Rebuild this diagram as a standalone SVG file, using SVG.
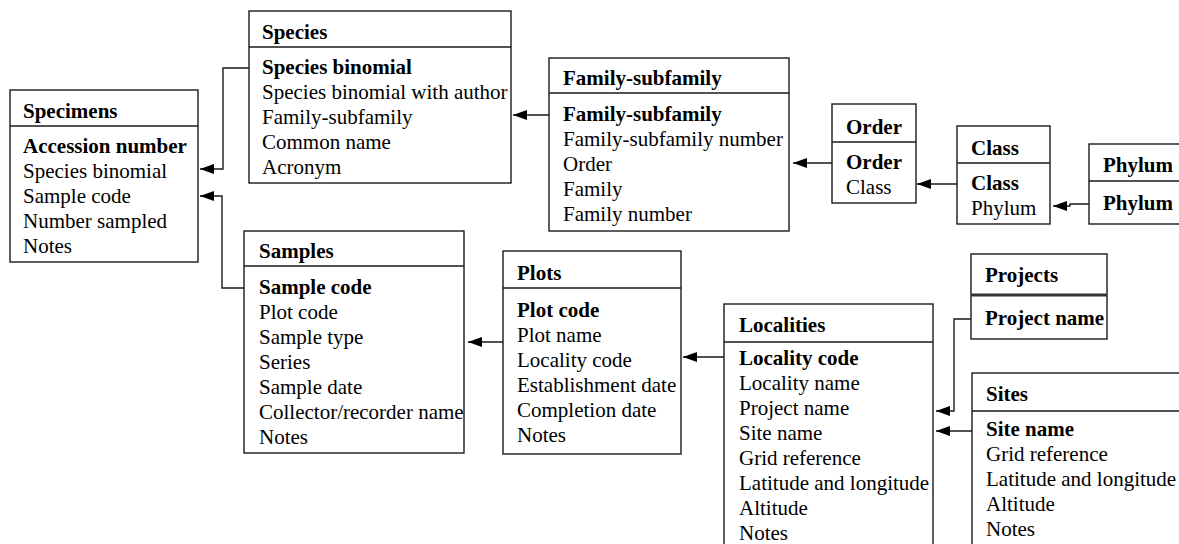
<svg xmlns="http://www.w3.org/2000/svg" width="1179" height="544" viewBox="0 0 1179 544">
<style>
.box{fill:#fff;stroke:#1a1a1a;stroke-width:1.4}
.div{stroke:#1a1a1a;stroke-width:1.4}
.thick{stroke:#333;stroke-width:3}
.t{font-family:'Liberation Serif','Times New Roman','DejaVu Serif',serif;font-size:21px;fill:#000}
.b{font-weight:bold}
.conn{fill:none;stroke:#1a1a1a;stroke-width:1.4}
</style>
<defs>
<marker id="arr" markerUnits="userSpaceOnUse" markerWidth="14" markerHeight="10" refX="14" refY="5" orient="auto">
<path d="M0,0 L14,5 L0,10 z" fill="#000"/>
</marker>
</defs>
<rect width="1179" height="544" fill="#fff"/>
<g id="connectors">
<path class="conn" d="M249,68 H223 V169 H200" marker-end="url(#arr)"/>
<path class="conn" d="M244,288 H222 V196 H200" marker-end="url(#arr)"/>
<path class="conn" d="M549,115 H513" marker-end="url(#arr)"/>
<path class="conn" d="M832,163 H793" marker-end="url(#arr)"/>
<path class="conn" d="M957,184 H917" marker-end="url(#arr)"/>
<path class="conn" d="M1089,204 H1070 V206 H1053" marker-end="url(#arr)"/>
<path class="conn" d="M503,342 H468" marker-end="url(#arr)"/>
<path class="conn" d="M724,357 H683" marker-end="url(#arr)"/>
<path class="conn" d="M971,319 H954 V411 H936" marker-end="url(#arr)"/>
<path class="conn" d="M972,431 H936" marker-end="url(#arr)"/>
</g>
<g class="t" font-family="Liberation Serif, Times New Roman, serif">
<g id="specimens">
<rect class="box" x="10" y="90" width="188" height="172"/>
<line class="div" x1="10" y1="126" x2="198" y2="126"/>
<text x="23" y="118" class="b">Specimens</text>
<text x="23" y="153" class="b">Accession number</text>
<text x="23" y="178">Species binomial</text>
<text x="23" y="203">Sample code</text>
<text x="23" y="228">Number sampled</text>
<text x="23" y="253">Notes</text>
</g>
<g id="species">
<rect class="box" x="249" y="11" width="262" height="172"/>
<line class="div" x1="249" y1="47" x2="511" y2="47"/>
<text x="262" y="39" class="b">Species</text>
<text x="262" y="74" class="b">Species binomial</text>
<text x="262" y="99">Species binomial with author</text>
<text x="262" y="124">Family-subfamily</text>
<text x="262" y="149">Common name</text>
<text x="262" y="174">Acronym</text>
</g>
<g id="family-subfamily">
<rect class="box" x="549" y="58" width="240" height="173"/>
<line class="div" x1="549" y1="93" x2="789" y2="93"/>
<text x="563" y="85" class="b">Family-subfamily</text>
<text x="563" y="121" class="b">Family-subfamily</text>
<text x="563" y="146">Family-subfamily number</text>
<text x="563" y="171">Order</text>
<text x="563" y="196">Family</text>
<text x="563" y="221">Family number</text>
</g>
<g id="order">
<rect class="box" x="832" y="104" width="84" height="99"/>
<line class="div" x1="832" y1="142" x2="916" y2="142"/>
<text x="846" y="134" class="b">Order</text>
<text x="846" y="169" class="b">Order</text>
<text x="846" y="194">Class</text>
</g>
<g id="class">
<rect class="box" x="957" y="126" width="93" height="98"/>
<line class="div" x1="957" y1="163" x2="1050" y2="163"/>
<text x="971" y="155" class="b">Class</text>
<text x="971" y="190" class="b">Class</text>
<text x="971" y="215">Phylum</text>
</g>
<g id="phylum">
<rect class="box" x="1089" y="144" width="200" height="80"/>
<line class="div" x1="1089" y1="181" x2="1289" y2="181"/>
<text x="1103" y="172" class="b">Phylum</text>
<text x="1103" y="210" class="b">Phylum</text>
</g>
<g id="samples">
<rect class="box" x="244" y="231" width="220" height="222"/>
<line class="div" x1="244" y1="266" x2="464" y2="266"/>
<text x="259" y="258" class="b">Samples</text>
<text x="259" y="294" class="b">Sample code</text>
<text x="259" y="319">Plot code</text>
<text x="259" y="344">Sample type</text>
<text x="259" y="369">Series</text>
<text x="259" y="394">Sample date</text>
<text x="259" y="419">Collector/recorder name</text>
<text x="259" y="444">Notes</text>
</g>
<g id="plots">
<rect class="box" x="503" y="251" width="178" height="203"/>
<line class="div" x1="503" y1="288" x2="681" y2="288"/>
<text x="517" y="280" class="b">Plots</text>
<text x="517" y="317" class="b">Plot code</text>
<text x="517" y="342">Plot name</text>
<text x="517" y="367">Locality code</text>
<text x="517" y="392">Establishment date</text>
<text x="517" y="417">Completion date</text>
<text x="517" y="442">Notes</text>
</g>
<g id="localities">
<rect class="box" x="724" y="304" width="209" height="260"/>
<line class="div" x1="724" y1="342" x2="933" y2="342"/>
<text x="739" y="332" class="b">Localities</text>
<text x="739" y="365" class="b">Locality code</text>
<text x="739" y="390">Locality name</text>
<text x="739" y="415">Project name</text>
<text x="739" y="440">Site name</text>
<text x="739" y="465">Grid reference</text>
<text x="739" y="490">Latitude and longitude</text>
<text x="739" y="515">Altitude</text>
<text x="739" y="540">Notes</text>
</g>
<g id="projects">
<rect class="box" x="971" y="254" width="136" height="85"/>
<line class="thick" x1="971" y1="295" x2="1107" y2="295"/>
<text x="985" y="282" class="b">Projects</text>
<text x="985" y="325" class="b">Project name</text>
</g>
<g id="sites">
<rect class="box" x="972" y="373" width="260" height="200"/>
<line class="div" x1="972" y1="411" x2="1232" y2="411"/>
<text x="986" y="401" class="b">Sites</text>
<text x="986" y="436" class="b">Site name</text>
<text x="986" y="461">Grid reference</text>
<text x="986" y="486">Latitude and longitude</text>
<text x="986" y="511">Altitude</text>
<text x="986" y="536">Notes</text>
</g>
</g>
</svg>
